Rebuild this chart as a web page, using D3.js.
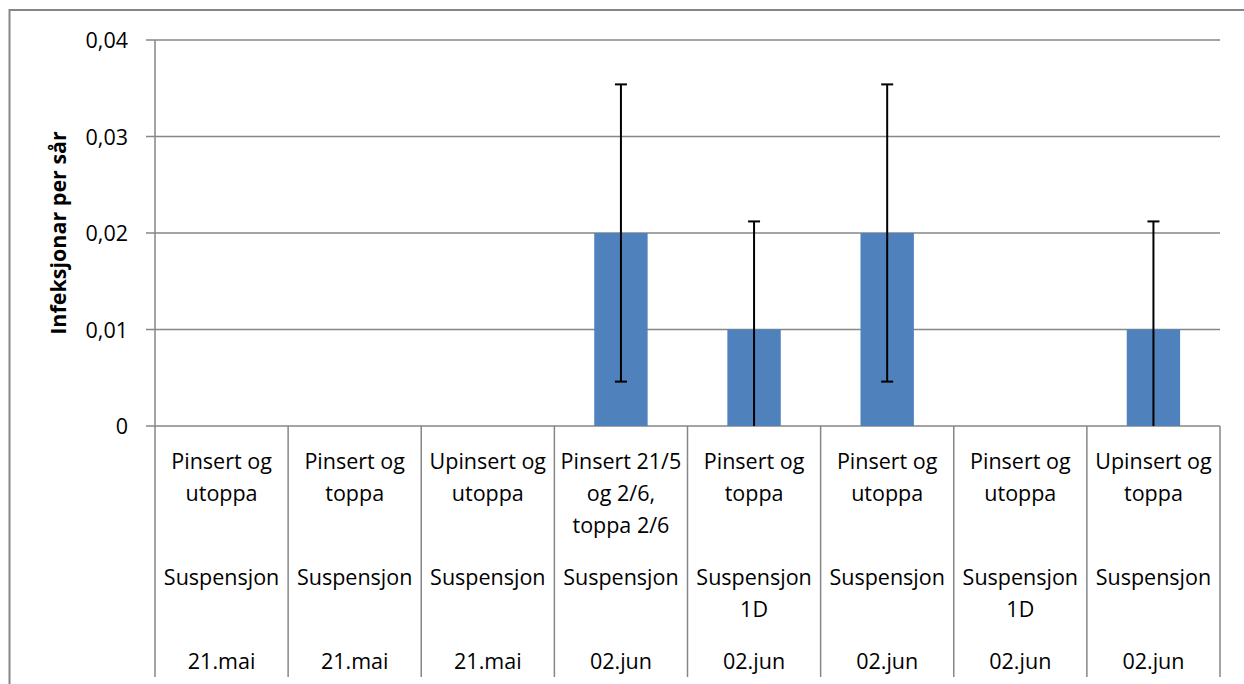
<!DOCTYPE html>
<html>
<head>
<meta charset="utf-8">
<script src="https://cdn.jsdelivr.net/npm/d3@7"></script>
<style>
  html, body { margin: 0; padding: 0; background: #fff; }
  svg { display: block; font-family: "Open Sans", sans-serif; }
</style>
</head>
<body>
<svg id="chart" width="1244" height="684"></svg>
<script>
// ---- data ----
const treatments = [["Pinsert og", "utoppa"], ["Pinsert og", "toppa"], ["Upinsert og", "utoppa"],
  ["Pinsert 21/5", "og 2/6,", "toppa 2/6"], ["Pinsert og", "toppa"], ["Pinsert og", "utoppa"],
  ["Pinsert og", "utoppa"], ["Upinsert og", "toppa"]];
const methods = [["Suspensjon"], ["Suspensjon"], ["Suspensjon"], ["Suspensjon"],
  ["Suspensjon", "1D"], ["Suspensjon"], ["Suspensjon", "1D"], ["Suspensjon"]];
const dates = ["21.mai", "21.mai", "21.mai", "02.jun", "02.jun", "02.jun", "02.jun", "02.jun"];
const values = [0, 0, 0, 0.02, 0.01, 0.02, 0, 0.01];
const errors = [0, 0, 0, 0.0154, 0.0112, 0.0154, 0, 0.0112];
const yTicks = [0, 0.01, 0.02, 0.03, 0.04];
const yTickLabels = ["0", "0,01", "0,02", "0,03", "0,04"];
const yTitle = "Infeksjonar per sår";

// ---- layout ----
const svg = d3.select("#chart");
const pLeft = 155, pRight = 1220, pTop = 40, pBottom = 426;
const idx = d3.range(values.length);
const x = d3.scaleBand().domain(idx).range([pLeft, pRight]).padding(0);
const y = d3.scaleLinear().domain([0, 0.04]).range([pBottom, pTop]);
const grid = "#868686";
const fontSize = 21.5;

// outer frame
svg.append("rect").attr("x", 9.5).attr("y", 10).attr("width", 1300).attr("height", 800)
  .attr("fill", "none").attr("stroke", grid).attr("stroke-width", 2);

// gridlines
svg.append("g").selectAll("line").data(yTicks).join("line")
  .attr("x1", pLeft - 9).attr("x2", pRight)
  .attr("y1", d => y(d)).attr("y2", d => y(d))
  .attr("stroke", grid).attr("stroke-width", 1.5);

// y axis
const yAxis = d3.axisLeft(y).tickValues(yTicks).tickSize(0).tickPadding(0)
  .tickFormat((d, i) => yTickLabels[i]);
const gy = svg.append("g").attr("transform", `translate(${pLeft},0)`).call(yAxis);
gy.select(".domain").remove();
gy.selectAll("text").attr("x", -27).attr("dy", "0.35em")
  .attr("font-size", fontSize).attr("font-family", "Open Sans").attr("fill", "#000");
svg.append("line").attr("x1", pLeft).attr("x2", pLeft).attr("y1", pTop).attr("y2", pBottom)
  .attr("stroke", grid).attr("stroke-width", 1.5);

// y title
svg.append("text")
  .attr("transform", `translate(66,${(pTop + pBottom) / 2}) rotate(-90)`)
  .attr("text-anchor", "middle").attr("font-weight", "bold")
  .attr("font-size", 21.5).attr("fill", "#000").text(yTitle);

// bars
const barW = x.bandwidth() * 0.401;
svg.append("g").selectAll("rect").data(idx.filter(i => values[i] > 0)).join("rect")
  .attr("x", i => x(i) + (x.bandwidth() - barW) / 2)
  .attr("width", barW)
  .attr("y", i => y(values[i]))
  .attr("height", i => y(0) - y(values[i]))
  .attr("fill", "#4F81BD");

// error bars
const eb = svg.append("g").attr("stroke", "#000").attr("stroke-width", 2);
idx.filter(i => errors[i] > 0).forEach(i => {
  const cx = x(i) + x.bandwidth() / 2;
  const hi = values[i] + errors[i];
  const lo = values[i] - errors[i];
  const yLo = lo < 0 ? y(0) : y(lo);
  eb.append("line").attr("x1", cx).attr("x2", cx).attr("y1", y(hi)).attr("y2", yLo);
  eb.append("line").attr("x1", cx - 6).attr("x2", cx + 6).attr("y1", y(hi)).attr("y2", y(hi));
  if (lo >= 0) eb.append("line").attr("x1", cx - 6).attr("x2", cx + 6).attr("y1", yLo).attr("y2", yLo);
});

// category separators
const seps = idx.map(i => x(i)).concat([pRight]);
svg.append("g").selectAll("line").data(seps).join("line")
  .attr("x1", d => d).attr("x2", d => d)
  .attr("y1", pBottom).attr("y2", 677)
  .attr("stroke", grid).attr("stroke-width", 1.5);

// category labels
const lab = svg.append("g").attr("font-size", fontSize).attr("text-anchor", "middle").attr("fill", "#000");
const lineH = 32;
idx.forEach(i => {
  const cx = x(i) + x.bandwidth() / 2;
  treatments[i].forEach((t, k) => lab.append("text").attr("x", cx).attr("y", 469 + k * lineH).text(t));
  methods[i].forEach((t, k) => lab.append("text").attr("x", cx).attr("y", 585 + k * lineH).text(t));
  lab.append("text").attr("x", cx).attr("y", 669).text(dates[i]);
});
</script>
</body>
</html>
